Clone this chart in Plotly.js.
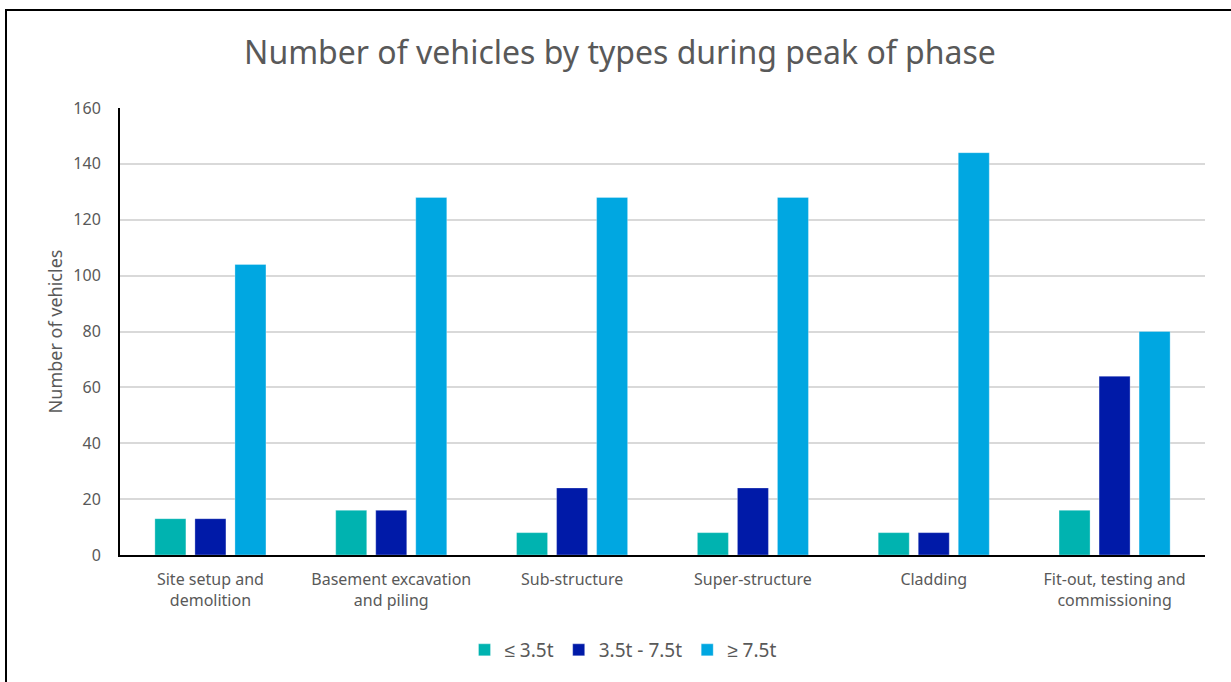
<!DOCTYPE html>
<html>
<head>
<meta charset="utf-8">
<script src="https://cdn.plot.ly/plotly-3.0.1.min.js"></script>
<style>
  html, body { margin: 0; padding: 0; background: #fff; overflow: hidden; }
  #frame { position: absolute; left: 5px; top: 9px; width: 1240px; height: 690px;
           border-left: 2px solid #000; border-top: 2px solid #000; pointer-events: none; z-index: 5; }
  #chart { position: absolute; left: 0; top: 0; width: 1231px; height: 682px; }
</style>
</head>
<body>
<div id="chart"></div>
<div id="frame"></div>
<script>
const categories = [
  "Site setup and<br>demolition",
  "Basement excavation<br>and piling",
  "Sub-structure",
  "Super-structure",
  "Cladding",
  "Fit-out, testing and<br>commissioning"
];
const seriesNames = ["≤ 3.5t", "3.5t - 7.5t", "≥ 7.5t"];
const lightVehicles = [13, 16, 8, 8, 8, 16];
const mediumVehicles = [13, 16, 24, 24, 8, 64];
const heavyVehicles = [104, 128, 128, 128, 144, 80];
const yTicks = [0, 20, 40, 60, 80, 100, 120, 140, 160];

const colors = ["#00B3B0", "#001AA8", "#00A7E1"];
const values = [lightVehicles, mediumVehicles, heavyVehicles];

const font = "Noto Sans, Liberation Sans, sans-serif";
const traces = values.map((v, i) => ({
  type: "bar",
  name: seriesNames[i],
  x: categories,
  y: v,
  marker: { color: colors[i], line: { color: "rgba(255,255,255,0.6)", width: 0.5 } },
  hoverinfo: "x+y+name"
}));

const layout = {
  width: 1231, height: 682,
  margin: { l: 120, r: 26, t: 108, b: 127 },
  paper_bgcolor: "#ffffff",
  plot_bgcolor: "#ffffff",
  barmode: "group",
  bargap: 0.336,
  bargroupgap: 0.225,
  title: {
    text: "Number of vehicles by types during peak of phase",
    font: { family: font, size: 32, color: "#595959" },
    x: 620 / 1231, xanchor: "center", xref: "container",
    y: 1 - 53/682, yanchor: "middle", yref: "container"
  },
  xaxis: {
    showline: true, linecolor: "#000", linewidth: 2,
    showgrid: false, zeroline: false,
    ticks: "outside", ticklen: 9, tickcolor: "rgba(0,0,0,0)",
    tickfont: { family: font, size: 16, color: "#595959" },
    tickangle: 0
  },
  yaxis: {
    range: [0, 160],
    tickvals: yTicks,
    ticktext: yTicks.map(String),
    showline: true, linecolor: "#000", linewidth: 2,
    showgrid: true, gridcolor: "#D9D9D9", gridwidth: 2,
    zeroline: false,
    ticks: "outside", ticklen: 14, tickcolor: "rgba(0,0,0,0)",
    tickfont: { family: font, size: 16, color: "#595959" },
    title: { text: "Number of vehicles", font: { family: font, size: 18, color: "#595959" }, standoff: 6 }
  },
  legend: {
    orientation: "h",
    x: (623 - 120) / 1085, xanchor: "center",
    y: (555 - 650) / 447, yanchor: "middle",
    font: { family: font, size: 19, color: "#595959" },
    itemwidth: 30,
    traceorder: "normal"
  },
  showlegend: true
};

Plotly.newPlot("chart", traces, layout, { displayModeBar: false, staticPlot: false });
</script>
</body>
</html>
